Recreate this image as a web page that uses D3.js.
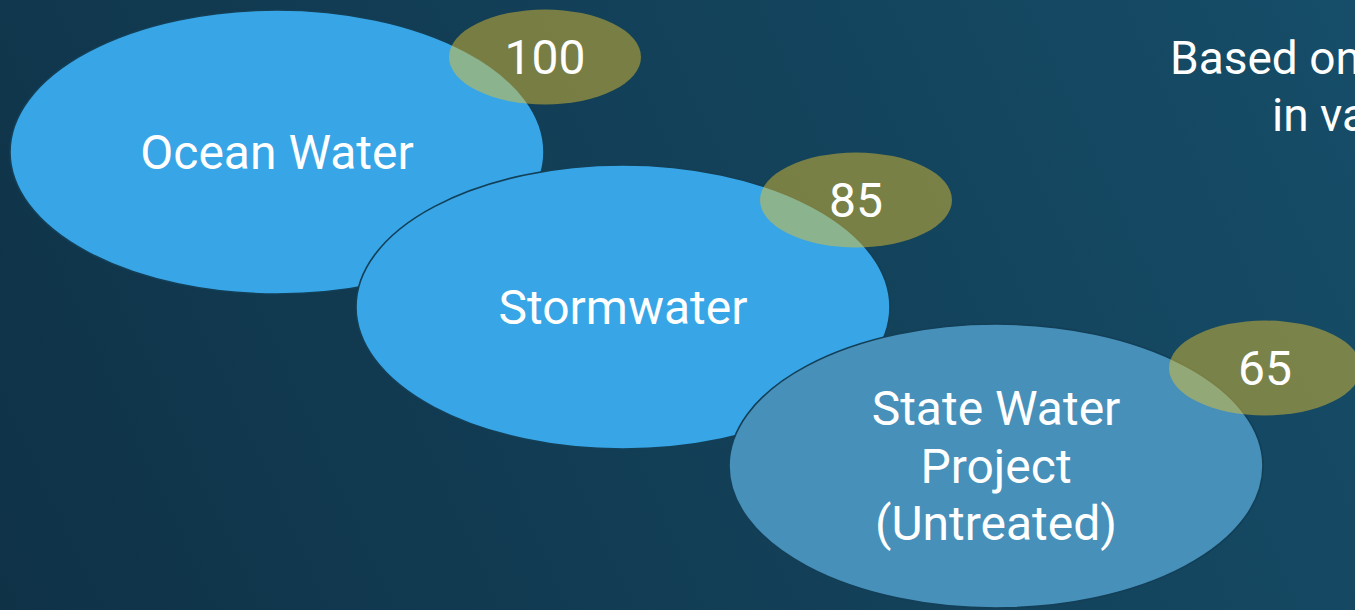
<!DOCTYPE html>
<html>
<head>
<meta charset="utf-8">
<script src="https://cdn.jsdelivr.net/npm/d3@7"></script>
<style>
  html, body { margin: 0; padding: 0; background: #113a50; overflow: hidden; }
  svg { display: block; }
  text { font-family: Roboto, "Noto Sans", sans-serif; fill: #ffffff; }
</style>
</head>
<body>
<svg id="chart" width="1355" height="610"></svg>
<script>
// Water sources and their relative scores
const categories = ["Ocean Water", "Stormwater", "State Water Project (Untreated)"];
const labelLines = [["Ocean Water"], ["Stormwater"], ["State Water", "Project", "(Untreated)"]];
const values = [100, 85, 65];
const noteLines = ["Based on", "in va"];

const W = 1355, H = 610;
const svg = d3.select("#chart");

// background gradient
const defs = svg.append("defs");
const grad = defs.append("linearGradient")
  .attr("id", "bg").attr("gradientUnits", "userSpaceOnUse")
  .attr("x1", 0).attr("y1", H).attr("x2", W).attr("y2", 0);
grad.append("stop").attr("offset", "0%").attr("stop-color", "#0f3247");
grad.append("stop").attr("offset", "100%").attr("stop-color", "#164d68");
svg.append("rect").attr("width", W).attr("height", H).attr("fill", "url(#bg)");

// layout scales: staggered diagonal arrangement
const xCenter = d3.scaleOrdinal().domain(categories).range([277, 623, 996]);
const yCenter = d3.scaleOrdinal().domain(categories).range([152, 307, 466]);
const xBadge = d3.scaleOrdinal().domain(categories).range([545, 856, 1265]);
const yBadge = d3.scaleOrdinal().domain(categories).range([57, 200, 368]);
const fill = d3.scaleOrdinal().domain(categories).range(["#37a5e6", "#37a5e6", "#4690ba"]);

const RX = 267, RY = 142, BRX = 96, BRY = 47.5;

const rows = categories.map((c, i) => ({ cat: c, lines: labelLines[i], value: values[i] }));

// source ellipses
const g = svg.append("g");
g.selectAll("ellipse.src")
  .data(rows).join("ellipse")
  .attr("class", "src")
  .attr("cx", d => xCenter(d.cat))
  .attr("cy", d => yCenter(d.cat))
  .attr("rx", RX).attr("ry", RY)
  .attr("fill", d => fill(d.cat))
  .attr("stroke", "#133f57")
  .attr("stroke-width", 1.6);

// source labels
const lh = 57.5;
g.selectAll("text.src")
  .data(rows).join("text")
  .attr("class", "src")
  .attr("text-anchor", "middle")
  .attr("font-size", 48)
  .each(function(d) {
    const n = d.lines.length;
    const t = d3.select(this);
    d.lines.forEach((ln, j) => {
      t.append("tspan")
        .attr("x", xCenter(d.cat))
        .attr("y", yCenter(d.cat) + (j - (n - 1) / 2) * lh)
        .attr("dy", "0.35em")
        .text(ln);
    });
  });

// value badges
g.selectAll("ellipse.badge")
  .data(rows).join("ellipse")
  .attr("class", "badge")
  .attr("cx", d => xBadge(d.cat))
  .attr("cy", d => yBadge(d.cat))
  .attr("rx", BRX).attr("ry", BRY)
  .attr("fill", "#e9c22e")
  .attr("fill-opacity", 0.48);

g.selectAll("text.badge")
  .data(rows).join("text")
  .attr("class", "badge")
  .attr("text-anchor", "middle")
  .attr("font-size", 48)
  .attr("x", d => xBadge(d.cat))
  .attr("y", d => yBadge(d.cat))
  .attr("dy", "0.35em")
  .text(d => d.value);

// side note
svg.append("text")
  .attr("font-size", 46)
  .selectAll("tspan")
  .data(noteLines).join("tspan")
  .attr("x", (d, i) => i === 0 ? 1170 : 1272)
  .attr("y", (d, i) => 74 + i * 57)
  .text(d => d);
</script>
</body>
</html>
